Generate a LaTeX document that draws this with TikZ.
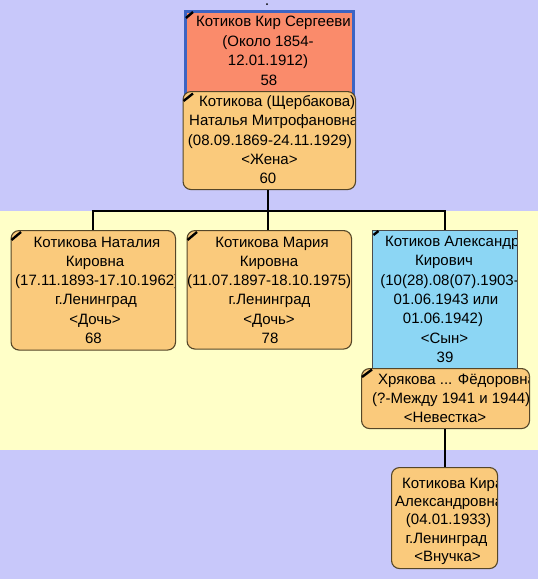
\documentclass[tikz,border=0pt]{standalone}
\usepackage{fontspec}
\setmainfont{Liberation Sans}
\definecolor{lav}{RGB}{200,200,250}
\definecolor{yel}{RGB}{255,255,200}
\definecolor{orng}{RGB}{250,202,124}
\definecolor{salm}{RGB}{250,139,107}
\definecolor{bord}{RGB}{60,100,195}
\definecolor{lblue}{RGB}{140,214,244}
\definecolor{brn}{RGB}{85,70,40}
\tikzset{
  pbox/.style={draw=brn, line width=1.1pt, fill=orng, rounded corners=8pt, inner sep=0pt, anchor=north west},
  kbox/.style={draw=bord, line width=3pt, fill=salm, inner sep=0pt, anchor=north west},
  sbox/.style={draw=black!70, line width=0.8pt, fill=lblue, inner sep=0pt, anchor=north west},
  txt/.style={anchor=base, inner sep=0pt, font=\fontsize{15}{17}\selectfont},
  ltxt/.style={txt, anchor=base west},
  rtxt/.style={txt, anchor=base east},
  conn/.style={draw=black, line width=2pt},
  cornermark/.style={draw=black, line width=2.4pt, line cap=butt}
}
\begin{document}
\begin{tikzpicture}[x=1pt,y=-1pt]
\useasboundingbox (0,0) rectangle (538,579);
\fill[lav] (0,0) rectangle (538,211);
\fill[yel] (0,211) rectangle (538,450);
\fill[lav] (0,450) rectangle (538,579);
\fill[black] (267,4) circle (1pt);

% boxes
\node[kbox, minimum width=168pt, minimum height=82pt] (kir) at (183.5,10) {};
\node[pbox, minimum width=172.5pt, minimum height=98pt] (wife) at (182.5,91) {};
\node[pbox, minimum width=164.5pt, minimum height=119.5pt] (nat) at (10.5,230) {};
\node[pbox, minimum width=164.5pt, minimum height=118.5pt] (mar) at (186.5,230) {};
\node[sbox, minimum width=145pt, minimum height=150pt] (alex) at (372,230) {};
\node[pbox, minimum width=168pt, minimum height=60pt] (hry) at (361,368) {};
\node[pbox, minimum width=106pt, minimum height=101pt] (gd) at (391,467) {};

% connectors
\coordinate (j) at (268,211);
\draw[conn] (wife.south -| j) -- (j);
\draw[conn] (nat.north) -- (nat.north |- j) -- (alex.north |- j) -- (alex.north);
\draw[conn] (mar.north -| j) -- (j);
\draw[conn] (gd.north) -- (gd.north |- hry.south);

% corner marks
\draw[cornermark] (186,18) -- (193,12);
\draw[cornermark] (183.5,101) -- (193,93.5);
\draw[cornermark] (11.5,240) -- (21,232);
\draw[cornermark] (187.5,240) -- (197,232);
\draw[cornermark] (373.5,235) -- (378.5,231);
\draw[cornermark] (362,377) -- (372,369.5);

% texts
\begin{scope}\clip (185,12) rectangle (350,90);
\node[ltxt] (kir1) at (196,26.5) {Котиков Кир Сергеевич};
\node[txt] (kir2) at (268,46) {(Около 1854-};
\node[txt] (kir3) at (268,65.5) {12.01.1912)};
\node[txt] (kir4) at (269,85) {58};
\end{scope}
\begin{scope}\clip (184,92) rectangle (354,188);
\node[ltxt] (wife1) at (199,106.7) {Котикова (Щербакова)};
\node[ltxt] (wife2) at (189,125.9) {Наталья Митрофановна};
\node[txt] (wife3) at (270,145.1) {(08.09.1869-24.11.1929)};
\node[txt] (wife4) at (269.5,164.3) {<Жена>};
\node[txt] (wife5) at (268,183.5) {60};
\end{scope}
\begin{scope}\clip (12,231) rectangle (174,348);
\node[txt] (nat1) at (97,247.3) {Котикова Наталия};
\node[txt] (nat2) at (95,266.5) {Кировна};
\node[ltxt] (nat3) at (15,285.7) {(17.11.1893-17.10.1962)};
\node[txt] (nat4) at (96,304.9) {г.Ленинград};
\node[txt] (nat5) at (95,324.1) {<Дочь>};
\node[txt] (nat6) at (93.5,343.3) {68};
\end{scope}
\begin{scope}\clip (186.5,231) rectangle (350,347);
\node[txt] (mar1) at (272,247.3) {Котикова Мария};
\node[txt] (mar2) at (269,266.5) {Кировна};
\node[ltxt] (mar3) at (187,285.7) {(11.07.1897-18.10.1975)};
\node[txt] (mar4) at (269.5,304.9) {г.Ленинград};
\node[txt] (mar5) at (269,324.1) {<Дочь>};
\node[txt] (mar6) at (270,343.3) {78};
\end{scope}
\begin{scope}\clip (373,231) rectangle (516.5,367);
\node[ltxt] (alex1) at (385,246.5) {Котиков Александр};
\node[txt] (alex2) at (444,265.8) {Кирович};
\node[rtxt] (alex3) at (519,285.1) {(10(28).08(07).1903-};
\node[txt] (alex4) at (446,304.4) {01.06.1943 или};
\node[txt] (alex5) at (443,323.7) {01.06.1942)};
\node[txt] (alex6) at (444.5,343) {<Сын>};
\node[txt] (alex7) at (445,362.3) {39};
\end{scope}
\begin{scope}\clip (362,369) rectangle (528.5,427);
\node[ltxt] (hry1) at (378,384.5) {Хрякова ... Фёдоровна};
\node[ltxt] (hry2) at (372,403.5) {(?-Между 1941 и 1944)};
\node[txt] (hry3) at (445,422.5) {<Невестка>};
\end{scope}
\begin{scope}\clip (392,468) rectangle (496.5,567);
\node[ltxt] (gd1) at (402,488.3) {Котикова Кира};
\node[ltxt] (gd2) at (395,506.6) {Александровна};
\node[txt] (gd3) at (448.5,524.9) {(04.01.1933)};
\node[txt] (gd4) at (446.5,543.2) {г.Ленинград};
\node[txt] (gd5) at (447.5,561.5) {<Внучка>};
\end{scope}
\end{tikzpicture}
\end{document}
